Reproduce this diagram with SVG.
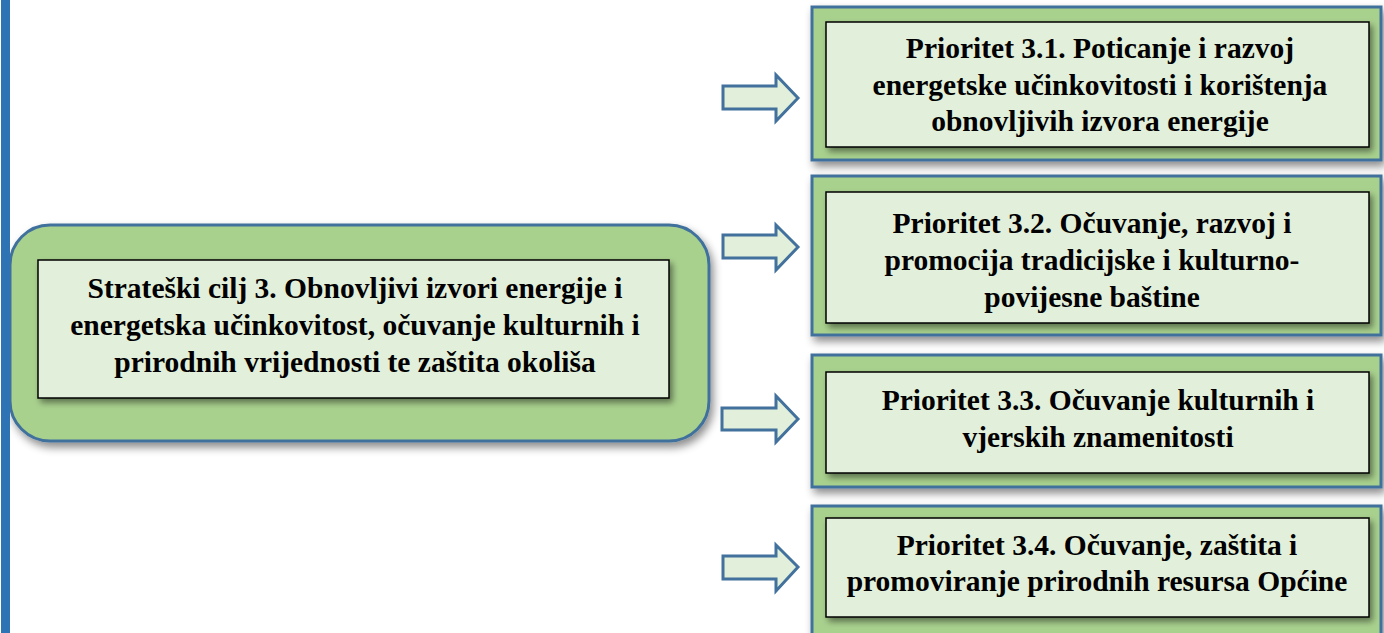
<svg xmlns="http://www.w3.org/2000/svg" width="1384" height="633" viewBox="0 0 1384 633">
<defs>
<filter id="sh" x="-10%" y="-10%" width="125%" height="130%">
<feDropShadow dx="3" dy="5" stdDeviation="4" flood-color="#000" flood-opacity="0.45"/>
</filter>
<filter id="shi" x="-10%" y="-10%" width="125%" height="130%">
<feDropShadow dx="3" dy="4" stdDeviation="3" flood-color="#000" flood-opacity="0.45"/>
</filter>
<style>
.outer{fill:#a9d18e;stroke:#41719c;stroke-width:3;filter:url(#sh)}
.inner{fill:#e2efda;stroke:#000;stroke-width:1.5;filter:url(#shi)}
.arrow{fill:#e2efda;stroke:#41719c;stroke-width:3;stroke-linejoin:miter}
text{font-family:'Liberation Serif','Times New Roman',serif;font-weight:bold;font-size:29.5px;fill:#000;text-anchor:middle}
</style>
</defs>
<rect x="0" y="0" width="1384" height="633" fill="#fff"/>
<g id="goal">
<rect class="outer" x="10" y="225" width="699" height="216" rx="40" ry="40"/>
<rect class="inner" x="38" y="260" width="631" height="138"/>
<text x="355" y="298">Strateški cilj 3. Obnovljivi izvori energije i</text>
<text x="355" y="335">energetska učinkovitost, očuvanje kulturnih i</text>
<text x="355" y="372">prirodnih vrijednosti te zaštita okoliša</text>
</g>
<g id="connectors">
<path class="arrow" d="M723,86 H776 V75 L798,98 L776,121 V109 H723 Z"/>
<path class="arrow" d="M723,235 H776 V225 L798,247 L776,270 V258 H723 Z"/>
<path class="arrow" d="M722,408 H776 V396 L798,419 L776,442 V430 H722 Z"/>
<path class="arrow" d="M723,556 H776 V545 L798,567 L776,591 V579 H723 Z"/>
</g>
<g id="p31">
<rect class="outer" x="812" y="7" width="569" height="153"/>
<rect class="inner" x="826" y="22" width="543" height="125"/>
<text x="1100" y="58">Prioritet 3.1. Poticanje i razvoj</text>
<text x="1100" y="95">energetske učinkovitosti i korištenja</text>
<text x="1100" y="131">obnovljivih izvora energije</text>
</g>
<g id="p32">
<rect class="outer" x="812" y="176" width="569" height="159"/>
<rect class="inner" x="826" y="192" width="543" height="131"/>
<text x="1092" y="233">Prioritet 3.2. Očuvanje, razvoj i</text>
<text x="1092" y="270">promocija tradicijske i kulturno-</text>
<text x="1092" y="307">povijesne baštine</text>
</g>
<g id="p33">
<rect class="outer" x="812" y="355" width="569" height="132"/>
<rect class="inner" x="826" y="372" width="543" height="101"/>
<text x="1098" y="410">Prioritet 3.3. Očuvanje kulturnih i</text>
<text x="1098" y="447">vjerskih znamenitosti</text>
</g>
<g id="p34">
<rect class="outer" x="812" y="506" width="569" height="140"/>
<rect class="inner" x="826" y="518" width="543" height="99"/>
<text x="1097" y="555">Prioritet 3.4. Očuvanje, zaštita i</text>
<text x="1097" y="591">promoviranje prirodnih resursa Općine</text>
</g>
<rect id="bar" x="1" y="0" width="9" height="633" fill="#2e74b5"/>
</svg>
